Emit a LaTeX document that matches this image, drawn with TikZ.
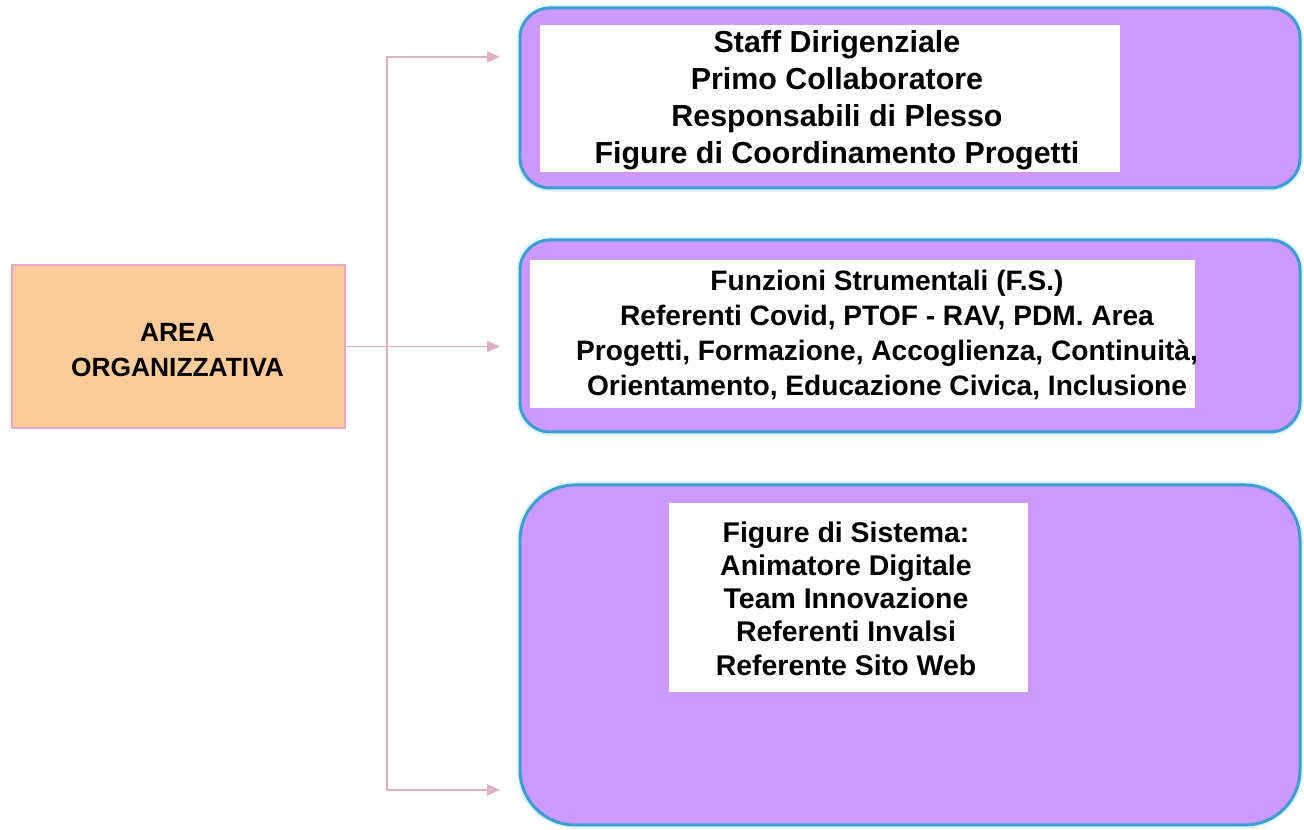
\documentclass[tikz,border=0pt]{standalone}
\usepackage{fontspec}
\newfontfamily\boxfont{Liberation Sans}
\usepackage{tikz}
\usetikzlibrary{shapes, arrows.meta}

\definecolor{peach}{HTML}{FFCC99}
\definecolor{peachline}{HTML}{E8A6C4}
\definecolor{lilac}{HTML}{CC99FF}
\definecolor{frameblue}{HTML}{3A9FCF}
\definecolor{halo}{HTML}{D8F4FA}
\definecolor{linkpink}{HTML}{DDB0C4}

\begin{document}
\begin{tikzpicture}[
	area/.style = {draw = peachline, line width = 0.8pt, fill = peach, inner sep = 0pt},
	group/.style = {draw = frameblue, line width = 1.7pt, fill = lilac, rounded corners = 0.6cm, minimum width = 15.6cm, inner sep = 0pt,
		preaction = {draw = halo, line width = 4pt}},
	panel/.style = {fill = white, inner sep = 0pt},
	label/.style = {align = center, inner sep = 0pt, font = \boxfont\bfseries},
	link/.style = {draw = linkpink, line width = 1.1pt, -{Triangle[length=0.26cm,width=0.22cm]}}
	]
	\useasboundingbox (0,0) rectangle (26.08,16.6);

	\node [area, minimum width = 6.66cm, minimum height = 3.26cm] (org) at (3.57,9.67) {};
	\node [label, font = \boxfont\bfseries\fontsize{15}{19.8}\selectfont] (orgt) at (3.55,9.6) {AREA\\ORGANIZZATIVA};

	\node [group, minimum height = 3.6cm] (g1) at (18.2,14.64) {};
	\node [group, minimum height = 3.84cm] (g2) at (18.2,9.88) {};
	\node [group, minimum height = 6.8cm, rounded corners = 1.1cm] (g3) at (18.2,3.5) {};

	\node [panel, minimum width = 11.6cm, minimum height = 2.94cm] (p1) at (16.6,14.63) {};
	\node [panel, minimum width = 13.3cm, minimum height = 2.96cm] (p2) at (17.25,9.92) {};
	\node [panel, minimum width = 7.18cm, minimum height = 3.78cm] (p3) at (16.97,4.65) {};

	\node [label, font = \boxfont\bfseries\fontsize{17.3}{21}\selectfont] (staff) at (16.74,14.6) {Staff Dirigenziale\\Primo Collaboratore\\Responsabili di Plesso\\Figure di Coordinamento Progetti};
	\node [label, font = \boxfont\bfseries\fontsize{16}{19.9}\selectfont] (fs) at (17.74,9.9) {Funzioni Strumentali (F.S.)\\Referenti Covid, PTOF - RAV, PDM. Area\\Progetti, Formazione, Accoglienza, Continuità,\\Orientamento, Educazione Civica, Inclusione};
	\node [label, font = \boxfont\bfseries\fontsize{16.2}{18.9}\selectfont] (sys) at (16.92,4.63) {Figure di Sistema:\\Animatore Digitale\\Team Innovazione\\Referenti Invalsi\\Referente Sito Web};

	\coordinate (split) at (7.74,9.67);
	\coordinate (in1) at (10.0,15.46);
	\coordinate (in2) at (10.0,9.67);
	\coordinate (in3) at (10.0,0.8);

	\draw [link] (org.east) -- (in2);
	\draw [link] (split) |- (in1);
	\draw [link] (split) |- (in3);

\end{tikzpicture}
\end{document}
